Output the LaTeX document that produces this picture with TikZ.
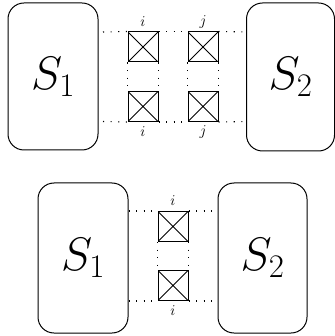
\documentclass[tikz,border=0pt]{standalone}
\usepackage{fix-cm}
\begin{document}
\begin{tikzpicture}[x=1pt,y=-1pt,
  big/.style={draw,line width=1pt,rounded corners=16pt,inner sep=0pt,font=\fontsize{47}{50}\selectfont},
  sq/.style={draw,line width=1pt,minimum size=30pt,inner sep=0pt,
    path picture={\draw[line width=0.8pt] (path picture bounding box.north west)--(path picture bounding box.south east)
      (path picture bounding box.north east)--(path picture bounding box.south west);}},
  dots/.style={line width=1.1pt,dash pattern=on 1.1pt off 6.5pt},
  lab/.style={font=\fontsize{15}{16}\selectfont,inner sep=0pt}]
\useasboundingbox (0,0) rectangle (334,336);
% top diagram
\node[big,minimum width=90pt,minimum height=147pt] (L1) at (53,76.5) {$S_1$};
\node[big,minimum width=88pt,minimum height=148pt] (R1) at (290.5,77) {$S_2$};
\node[sq] (a) at (143,47) {};
\node[sq] (b) at (143,106.5) {};
\node[sq] (c) at (203,47) {};
\node[sq] (d) at (203,106.5) {};
\coordinate (lt) at (103,32);
\coordinate (lb) at (103,121.5);
\coordinate (rt) at (246,32);
\coordinate (rb) at (246,121.5);
\draw[dots] (lt) -- (a.north west);
\draw[dots] (a.north east) -- (c.north west);
\draw[dots] (c.north east) -- (rt);
\draw[dots] (lb) -- (b.south west);
\draw[dots] (b.south east) -- (d.south west);
\draw[dots] (d.south east) -- (rb);
\draw[dots] (a.south west) -- (b.north west);
\draw[dots] (a.south east) -- (b.north east);
\draw[dots] (c.south west) -- (d.north west);
\draw[dots] (c.south east) -- (d.north east);
\node[lab] (ia) at (143,22) {$i$};
\node[lab] (ib) at (143,132) {$i$};
\node[lab] (ja) at (203,22) {$j$};
\node[lab] (jb) at (203,132) {$j$};
% bottom diagram
\node[big,minimum width=90pt,minimum height=150pt] (L2) at (83,258) {$S_1$};
\node[big,minimum width=89pt,minimum height=150pt] (R2) at (262.5,258) {$S_2$};
\node[sq] (e) at (173,226.5) {};
\node[sq] (f) at (173,285.5) {};
\draw[dots] (e.north west -| L2.east) -- (e.north west);
\draw[dots] (e.north east) -- (e.north east -| R2.west);
\draw[dots] (f.south west -| L2.east) -- (f.south west);
\draw[dots] (f.south east) -- (f.south east -| R2.west);
\draw[dots] (e.south west) -- (f.north west);
\draw[dots] (e.south east) -- (f.north east);
\node[lab] (ic) at (173,201) {$i$};
\node[lab] (id) at (173,311) {$i$};
\end{tikzpicture}
\end{document}
